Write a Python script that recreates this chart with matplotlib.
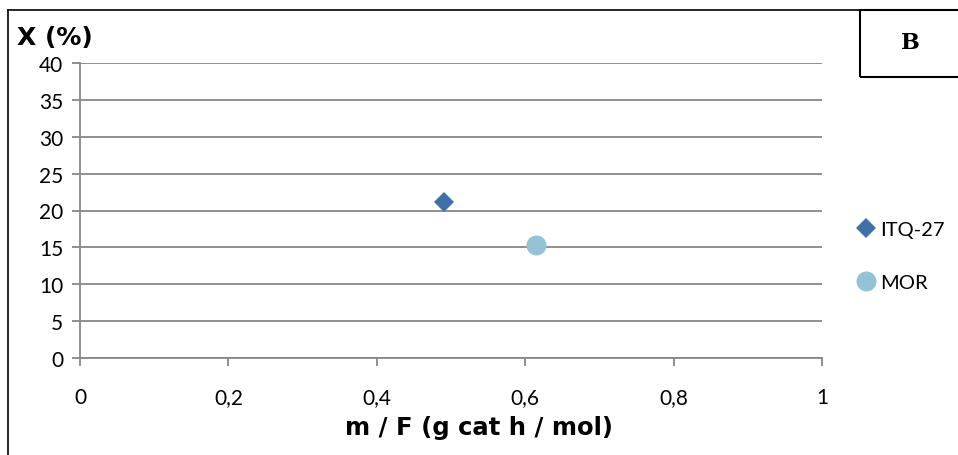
import matplotlib.pyplot as plt
from matplotlib.lines import Line2D
from matplotlib.patches import Rectangle

# donnees
series = ["ITQ-27", "MOR"]
mf = [0.49, 0.615]
conv = [21.1, 15.3]
markers = ["D", "o"]
sizes = [10.2, 14.4]
colors = ["#4170a8", "#93c3d5"]
x_ticks = [0, 0.2, 0.4, 0.6, 0.8, 1]
x_labels = ["0", "0,2", "0,4", "0,6", "0,8", "1"]
y_ticks = [0, 5, 10, 15, 20, 25, 30, 35, 40]

W, H = 958, 456
fig = plt.figure(figsize=(W / 100, H / 100), dpi=100)
ax = fig.add_axes([80 / W, 1 - 359 / H, (822 - 80) / W, (359 - 64) / H])

grid_c = "#878787"
for i in range(len(series)):
    ax.plot(mf[i], conv[i], linestyle="none", marker=markers[i], ms=sizes[i],
            color=colors[i], markeredgewidth=0, label=series[i], zorder=3)

ax.set_xlim(0, 1)
ax.set_ylim(0, 40)
ax.set_xticks(x_ticks)
ax.set_xticklabels(x_labels, family=["Lato", "DejaVu Sans"], fontsize=15)
ax.set_yticks(y_ticks)
ax.set_yticklabels([str(v) for v in y_ticks], family=["Lato", "DejaVu Sans"], fontsize=15)
ax.yaxis.grid(True, color=grid_c, lw=1.3)
ax.set_axisbelow(True)
for s in ["top", "right"]:
    ax.spines[s].set_visible(False)
for s in ["left", "bottom"]:
    ax.spines[s].set_color(grid_c)
    ax.spines[s].set_linewidth(1.3)
ax.tick_params(axis="y", direction="out", length=6, color=grid_c, width=1.3, pad=6)
ax.tick_params(axis="x", direction="out", length=6, color=grid_c, width=1.3, pad=15)

leg = fig.legend(loc="center left", bbox_to_anchor=(834 / W, 1 - 257 / H), frameon=False,
                 prop={"family": "Lato", "size": 14.5}, handletextpad=0.0,
                 labelspacing=1.8, handlelength=1.4)

# titres des axes
fig.text(17 / W, 1 - 38 / H, "X (%)", fontsize=18, fontweight="bold",
         family="DejaVu Sans", va="center", ha="left")
fig.text(479 / W, 1 - 428 / H, "m / F (g cat h / mol)", fontsize=17.5, fontweight="bold",
         family="DejaVu Sans", va="center", ha="center")

# cadre exterieur et encadre B
fig.add_artist(Line2D([8 / W, 1], [1 - 11 / H, 1 - 11 / H], color="black", lw=1.2))
fig.add_artist(Line2D([8 / W, 8 / W], [1 - 11 / H, 0], color="black", lw=1.2))
fig.add_artist(Rectangle((860 / W, 1 - 78 / H), 100 / W, 67 / H, fill=False,
                         edgecolor="black", lw=1.5))
fig.text(910 / W, 1 - 43 / H, "B", fontsize=16, fontweight="bold",
         family="DejaVu Serif", va="center", ha="center")

fig.savefig("out.png", dpi=100)
